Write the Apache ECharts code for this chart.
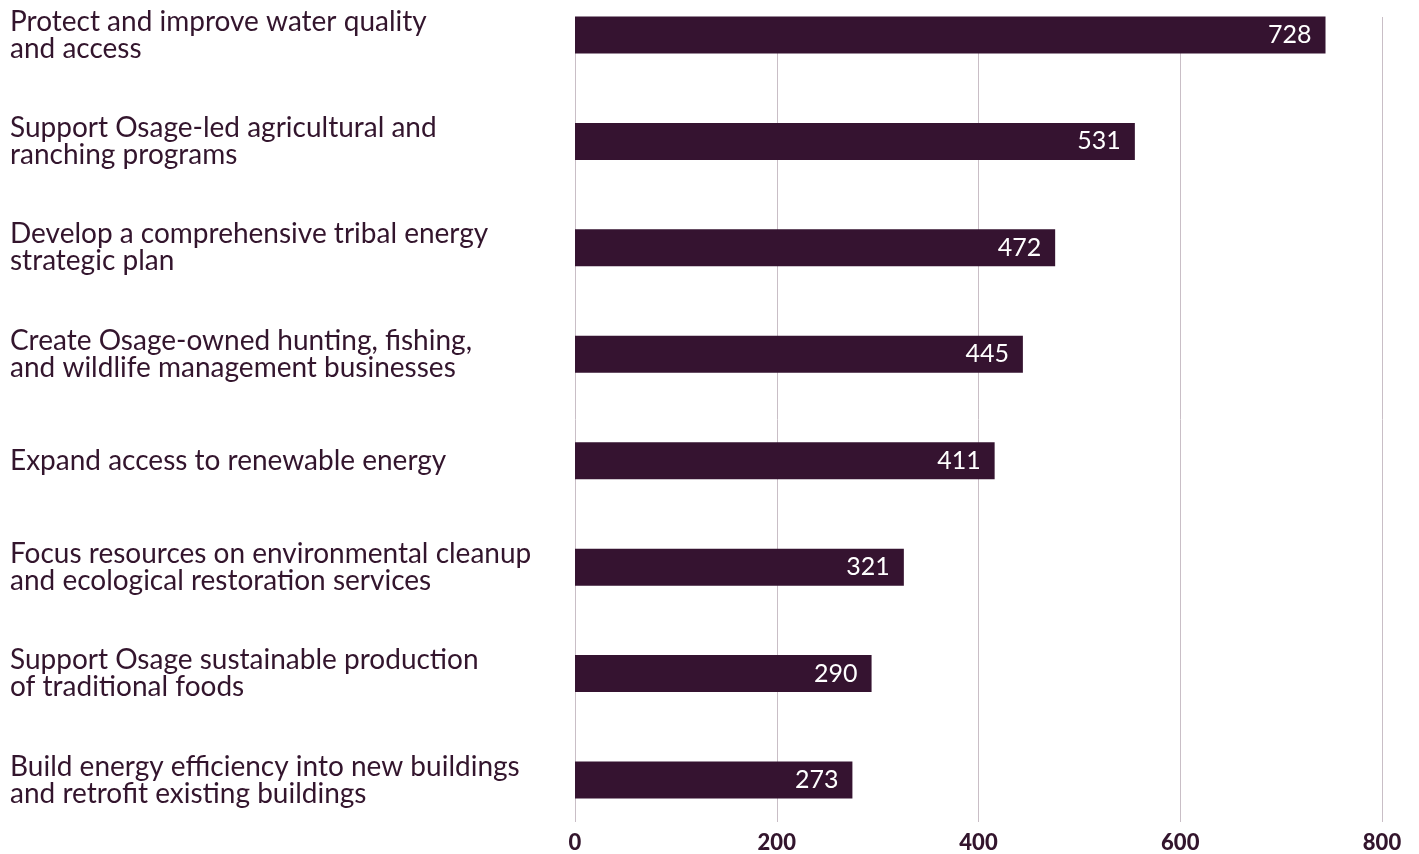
<!DOCTYPE html>
<html>
<head>
<meta charset="utf-8">
<script src="https://cdn.jsdelivr.net/npm/echarts@6/dist/echarts.min.js"></script>
<style>
  html, body { margin: 0; padding: 0; background: #fff; }
  #chart { width: 1419px; height: 854px; }
</style>
</head>
<body>
<div id="chart"></div>
<script>
// priorities, top to bottom
const categories = [
  'Protect and improve water quality\nand access',
  'Support Osage-led agricultural and\nranching programs',
  'Develop a comprehensive tribal energy\nstrategic plan',
  'Create Osage-owned hunting, fishing,\nand wildlife management businesses',
  'Expand access to renewable energy',
  'Focus resources on environmental cleanup\nand ecological restoration services',
  'Support Osage sustainable production\nof traditional foods',
  'Build energy efficiency into new buildings\nand retrofit existing buildings'
];
// bar lengths as drawn
const barValues = [744, 555, 476, 444, 416, 326, 294, 275];
// numbers printed on the bars
const valueLabels = [728, 531, 472, 445, 411, 321, 290, 273];
const xTicks = [0, 200, 400, 600, 800];

const dark = '#351330';
const textColor = '#33152d';
const gridColor = '#c9bec6';
const font = 'Lato, "Noto Sans", sans-serif';

const chart = echarts.init(document.getElementById('chart'));

chart.setOption({
  backgroundColor: '#fff',
  animation: false,
  grid: [
    { left: 575, right: 37, top: 35, bottom: 74, containLabel: false },
    { left: 575, right: 37, top: 17, bottom: 31, containLabel: false }
  ],
  xAxis: [
    {
      gridIndex: 0,
      type: 'value',
      min: xTicks[0],
      max: xTicks[xTicks.length - 1],
      show: false
    },
    {
      gridIndex: 1,
      type: 'value',
      min: xTicks[0],
      max: xTicks[xTicks.length - 1],
      interval: 200,
      axisLine: { show: false },
      axisTick: { show: false },
      splitLine: { show: true, lineStyle: { color: gridColor, width: 1 } },
      axisLabel: {
        color: textColor,
        fontFamily: font,
        fontWeight: 900,
        fontSize: 22,
        margin: 10
      }
    }
  ],
  yAxis: [
    {
      gridIndex: 0,
      type: 'category',
      data: categories,
      inverse: true,
      boundaryGap: false,
      axisLine: { show: false },
      axisTick: { show: false },
      splitLine: { show: false },
      axisLabel: {
        interval: 0,
        align: 'left',
        margin: 565,
        color: textColor,
        fontFamily: font,
        fontSize: 28,
        lineHeight: 27
      }
    },
    {
      gridIndex: 1,
      type: 'value',
      min: 0,
      max: 1,
      show: false
    }
  ],
  series: [
    {
      type: 'bar',
      xAxisIndex: 0,
      yAxisIndex: 0,
      data: barValues,
      barWidth: 37,
      itemStyle: { color: dark },
      label: {
        show: true,
        position: 'insideRight',
        distance: 14,
        color: '#fff',
        fontFamily: font,
        fontSize: 25,
        formatter: p => String(valueLabels[p.dataIndex])
      }
    }
  ]
});
</script>
</body>
</html>
